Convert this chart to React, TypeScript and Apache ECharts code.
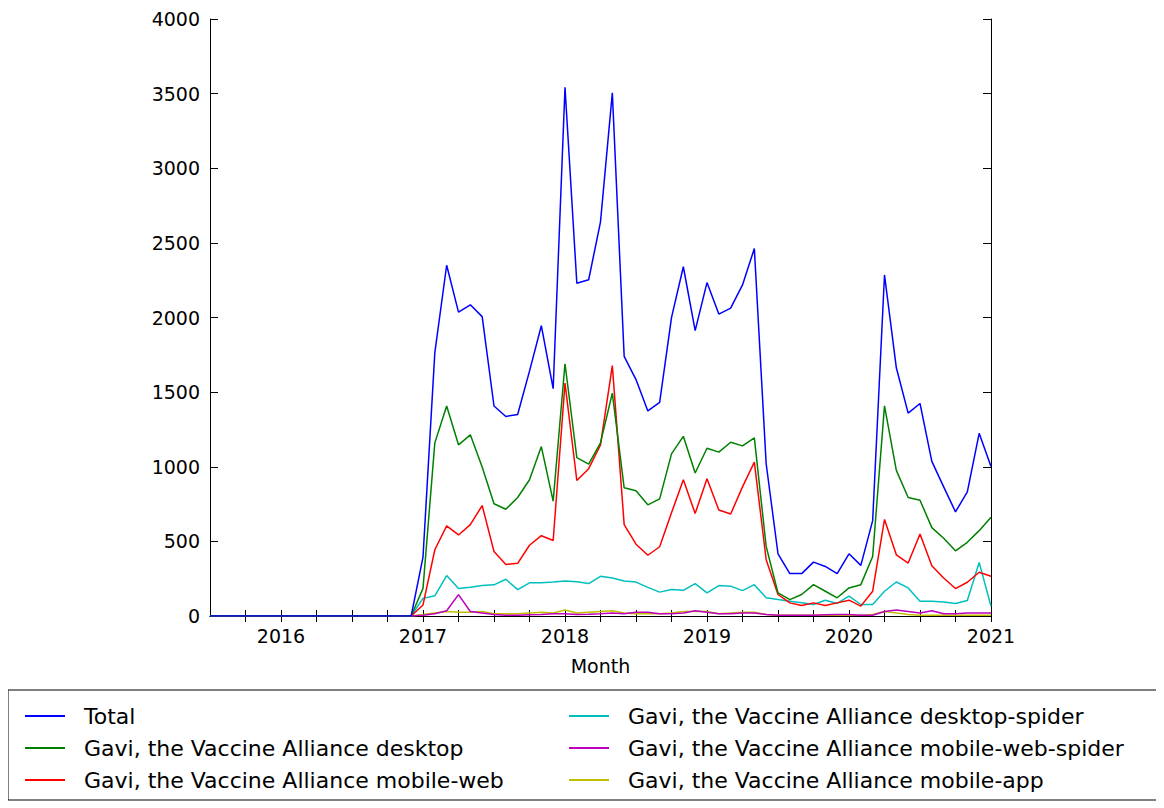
import { useEffect, useRef } from "react";
import * as echarts from "echarts";

// monthly points 2015-07 .. 2021-01
const startYear = 2015.5;
const leadingZeros = new Array(18).fill(0); // 2015-07 .. 2016-12

const total = [
  395, 1765, 2350, 2036, 2085, 2006, 1407, 1337, 1350, 1641, 1945, 1523,
  3542, 2229, 2253, 2641, 3505, 1740, 1584, 1374, 1431, 1999, 2340, 1912,
  2234, 2023, 2063, 2218, 2462, 1020, 417, 284, 284, 361, 332, 284,
  417, 339, 639, 2285, 1663, 1359, 1424, 1036, 865, 698, 832, 1224,
  1002,
];
const desktop = [
  185, 1160, 1407, 1147, 1214, 999, 752, 715, 794, 913, 1135, 770,
  1690, 1061, 1017, 1160, 1493, 859, 839, 745, 785, 1086, 1204, 958,
  1124, 1098, 1164, 1140, 1193, 466, 155, 110, 144, 210, 166, 122,
  188, 210, 399, 1408, 976, 794, 776, 592, 521, 437, 494, 572,
  661,
];
const mobileWeb = [
  74, 444, 604, 543, 612, 740, 432, 345, 353, 474, 538, 506,
  1560, 908, 987, 1147, 1678, 612, 481, 407, 464, 691, 913, 687,
  920, 710, 683, 865, 1031, 377, 144, 88, 70, 88, 70, 88,
  106, 66, 166, 647, 410, 355, 550, 337, 255, 184, 226, 293,
  266,
];
const desktopSpider = [
  118, 135, 271, 185, 192, 204, 209, 246, 177, 222, 222, 227,
  234, 230, 217, 266, 254, 234, 227, 192, 160, 177, 172, 217,
  155, 204, 200, 170, 210, 122, 110, 99, 88, 77, 106, 84,
  133, 77, 77, 166, 228, 188, 99, 99, 93, 84, 104, 359,
  65,
];
const mobileWebSpider = [
  5, 15, 35, 143, 30, 20, 10, 5, 5, 8, 10, 15,
  15, 10, 12, 15, 20, 15, 25, 25, 15, 15, 20, 35,
  25, 15, 15, 20, 20, 10, 5, 5, 5, 5, 8, 10,
  10, 5, 5, 30, 40, 30, 20, 35, 15, 15, 20, 20,
  20,
];
const mobileApp = [
  10, 20, 30, 25, 25, 30, 15, 15, 15, 20, 25, 20,
  40, 20, 25, 30, 35, 20, 15, 15, 15, 20, 30, 30,
  30, 15, 20, 25, 25, 10, 5, 5, 5, 5, 5, 5,
  5, 5, 10, 30, 20, 10, 5, 5, 5, 5, 5, 5,
  5,
];

const seriesNames = [
  "Total",
  "Gavi, the Vaccine Alliance desktop",
  "Gavi, the Vaccine Alliance mobile-web",
  "Gavi, the Vaccine Alliance desktop-spider",
  "Gavi, the Vaccine Alliance mobile-web-spider",
  "Gavi, the Vaccine Alliance mobile-app",
];
const seriesColors = ["#0000ff", "#008000", "#ff0000", "#00bfbf", "#bf00bf", "#bfbf00"];
const seriesValues = [total, desktop, mobileWeb, desktopSpider, mobileWebSpider, mobileApp];

const yearTicks = [2016, 2017, 2018, 2019, 2020, 2021];
const quarterTicks: number[] = [];
for (let q = 2015.75; q <= 2021.001; q += 0.25) quarterTicks.push(q);

const font = "DejaVu Sans";

export default function App() {
  const ref = useRef<HTMLDivElement | null>(null);

  useEffect(() => {
    const chart = echarts.init(ref.current!, null, { renderer: "svg" });
    const toPoints = (vals: number[]) =>
      leadingZeros.concat(vals).map((v, i) => [startYear + i / 12, v]);

    const axisCommon = {
      axisLine: { show: true, lineStyle: { color: "#000", width: 1 } },
      splitLine: { show: false },
    };

    chart.setOption({
      animation: false,
      grid: { left: 202, right: 169, top: 11, bottom: 188 },
      xAxis: [
        {
          type: "value", min: 2015.5, max: 2021, position: "bottom",
          ...axisCommon,
          axisTick: { inside: true, length: 6, customValues: quarterTicks, lineStyle: { color: "#000" } },
          axisLabel: { customValues: yearTicks, color: "#000", fontSize: 19, fontFamily: font, margin: 10, formatter: (v: number) => String(Math.round(v)) },
          name: "Month", nameLocation: "middle", nameGap: 40,
          nameTextStyle: { color: "#000", fontSize: 19, fontFamily: font },
        },
        {
          type: "value", min: 2015.5, max: 2021, position: "top",
          ...axisCommon,
          axisTick: { inside: true, length: 6, customValues: quarterTicks, lineStyle: { color: "#000" } },
          axisLabel: { show: false },
        },
      ],
      yAxis: [
        {
          type: "value", min: 0, max: 4000, interval: 500, position: "left",
          ...axisCommon,
          axisTick: { inside: true, length: 8, lineStyle: { color: "#000" } },
          axisLabel: { color: "#000", fontSize: 19, fontFamily: font, margin: 10, formatter: (v: number) => String(v) },
        },
        {
          type: "value", min: 0, max: 4000, interval: 500, position: "right",
          ...axisCommon,
          axisTick: { inside: true, length: 8, lineStyle: { color: "#000" } },
          axisLabel: { show: false },
        },
      ],
      legend: [0, 1].map((col) => ({
        data: seriesNames.slice(col * 3, col * 3 + 3),
        orient: "vertical",
        left: col === 0 ? 12 : 556,
        top: 692,
        itemGap: 10,
        itemWidth: 40,
        itemHeight: 2,
        icon: "rect",
        textStyle: { color: "#000", fontSize: 22, fontFamily: font, padding: [0, 0, 0, 14] },
      })),
      graphic: [
        {
          type: "rect",
          shape: { x: 0, y: 682, width: 1150, height: 110 },
          style: { fill: "none", stroke: "#000", lineWidth: 1 },
        },
      ],
      series: seriesNames.map((name, k) => ({
        type: "line",
        name,
        data: toPoints(seriesValues[k]),
        showSymbol: false,
        color: seriesColors[k],
        lineStyle: { width: 1.5, color: seriesColors[k] },
        z: 10 - k,
      })),
    });

    return () => chart.dispose();
  }, []);

  return <div ref={ref} style={{ width: 1152, height: 796 }} />;
}
